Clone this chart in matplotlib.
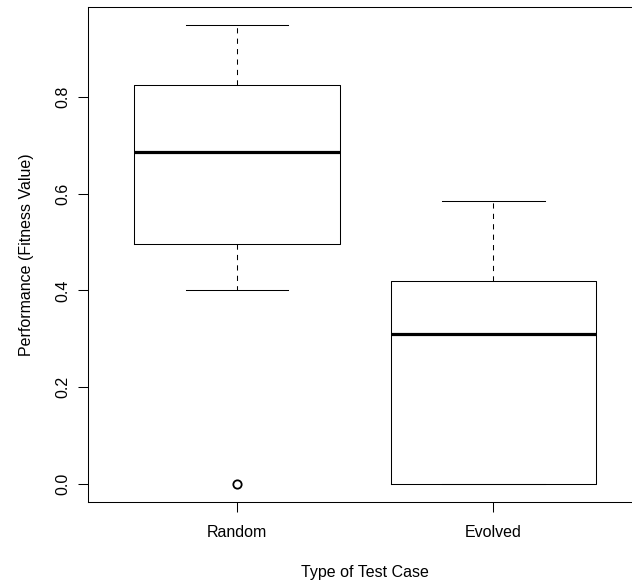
#!/usr/bin/env python3
"""R-style boxplot: performance of random vs evolved test cases."""

import matplotlib
matplotlib.use('Agg')
import matplotlib.pyplot as plt

plt.rcParams['font.family'] = ['Liberation Sans', 'DejaVu Sans']

# Box statistics
categories = ['Random', 'Evolved']
whislo = [0.401, 0.0]
q1 = [0.496, 0.0]
med = [0.685, 0.310]
q3 = [0.825, 0.419]
whishi = [0.948, 0.585]
fliers = [[0.0], []]

stats = []
for i, name in enumerate(categories):
    stats.append(dict(label=name, whislo=whislo[i], q1=q1[i], med=med[i],
                      q3=q3[i], whishi=whishi[i], fliers=fliers[i]))

fig = plt.figure(figsize=(6.32, 5.84), dpi=100)
# the right edge of the plot frame falls outside the image (cropped original)
ax = fig.add_axes([0.1397, 0.1399, 1.0158 - 0.1397, 0.8486])

lw = 0.75
ax.bxp(stats, positions=[1, 2], widths=0.8, showfliers=True,
       boxprops=dict(color='black', linewidth=lw),
       whiskerprops=dict(color='black', linewidth=lw, linestyle=(0, (5, 5))),
       capprops=dict(color='black', linewidth=lw),
       capwidths=0.4,
       medianprops=dict(color='black', linewidth=2.3, solid_capstyle='butt'),
       flierprops=dict(marker='o', markersize=6, markerfacecolor='none',
                       markeredgecolor='black', markeredgewidth=1.3))

ax.set_xlim(0.42, 2.58)
ax.set_ylim(-0.0379, 0.9859)
ax.set_yticks([0.0, 0.2, 0.4, 0.6, 0.8])
ax.set_yticklabels(['0.0', '0.2', '0.4', '0.6', '0.8'], rotation=90, va='center')
ax.set_xticks([1, 2])
ax.set_xticklabels(categories)

for s in ['left', 'top', 'bottom', 'right']:
    ax.spines[s].set_linewidth(lw)
    ax.spines[s].set_color('black')

ax.tick_params(axis='both', length=7, width=lw, colors='black', labelsize=11.5)
ax.tick_params(axis='y', pad=6)
ax.tick_params(axis='x', pad=9)

ax.set_xlabel('Type of Test Case', fontsize=11.5, labelpad=18)
ax.set_ylabel('Performance (Fitness Value)', fontsize=11.5, labelpad=15)

plt.savefig('out.png', dpi=100, facecolor='white')
plt.close()
